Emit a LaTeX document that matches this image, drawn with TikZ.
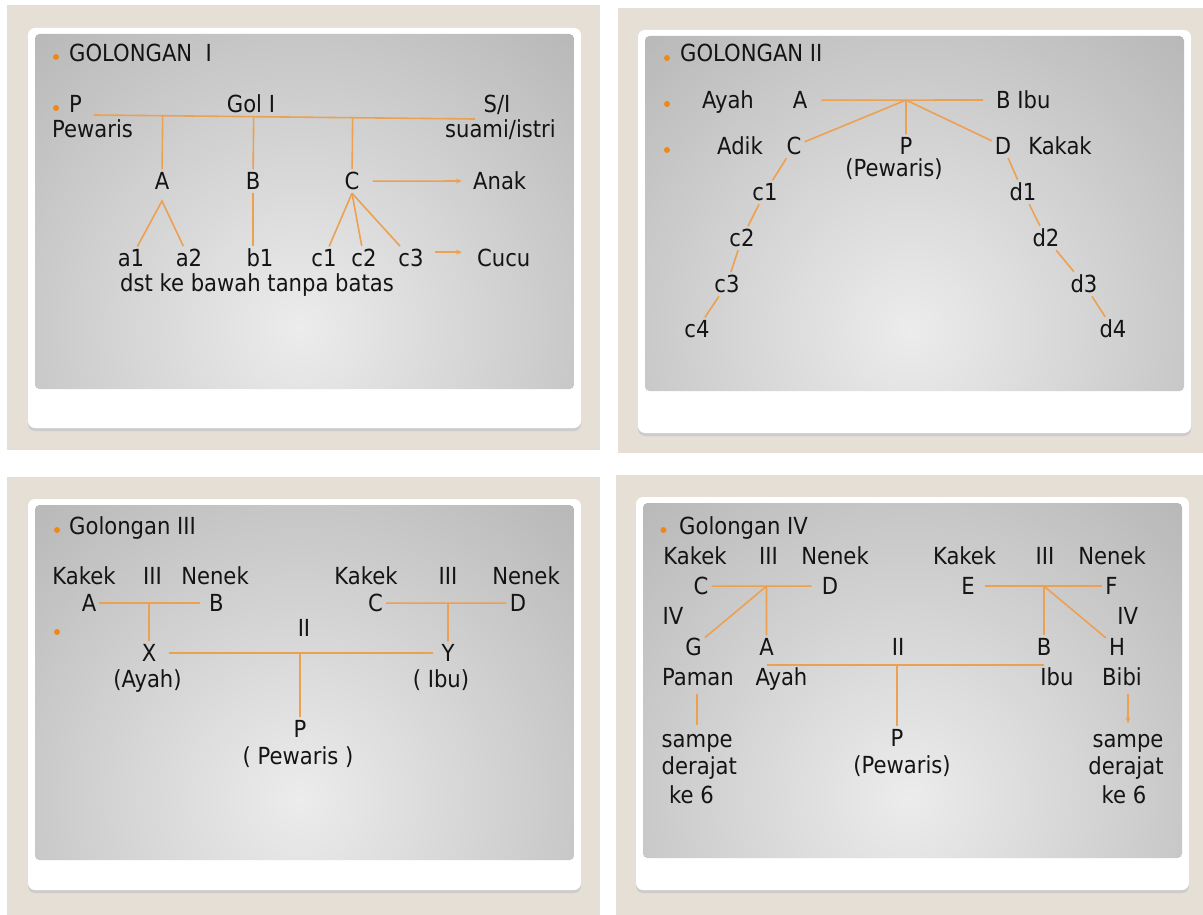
\documentclass[tikz,border=0pt]{standalone}
\usepackage{fontspec}
\setmainfont{DejaVu Sans Condensed}
\usetikzlibrary{arrows.meta,calc}

\definecolor{beige}{RGB}{229,223,213}
\definecolor{panelc}{RGB}{150,150,150}
\definecolor{panelhi}{RGB}{236,236,236}
\definecolor{lnc}{RGB}{236,160,82}
\definecolor{dotc}{RGB}{242,135,25}
\definecolor{txtc}{RGB}{20,20,20}

\begin{document}
\begin{tikzpicture}[x=1pt,y=-1pt,
    every node/.style={font=\fontsize{23.5}{28}\selectfont, text=txtc, inner sep=3pt, anchor=mid},
    ln/.style={draw=lnc, line width=1.6pt},
    arr/.style={ln, -{Stealth[length=6pt,width=5pt]}},
    dot/.style={fill=dotc},
    pics/slide/.style={code={
        \fill[black!20, rounded corners=7pt] (0,3) rectangle (553,#1+3);%shadow
        \fill[white, rounded corners=7pt] (0,0) rectangle (553,#1);
        \begin{scope}
            \clip[rounded corners=5pt] (7,6) rectangle (546,361);
            \fill[panelc] (7,6) rectangle (546,361);
            \shade[inner color=panelhi, outer color=panelc] (272,300) circle (660pt);
        \end{scope}
    }}
]
    \fill[white] (0,0) rectangle (1203,915);
    \fill[beige] (7,5) rectangle (600,450);
    \fill[beige] (618,8) rectangle (1203,453);
    \fill[beige] (7,477) rectangle (600,915);
    \fill[beige] (616,475) rectangle (1203,915);

    \pic at (28,28) {slide=400};
    \pic at (638,30) {slide=403};
    \pic at (28,499) {slide=391};
    \pic at (636,497) {slide=393};

    %golongan I
    \fill[dot] (56,57) circle (3pt);
    \node[anchor=mid west] (i-t) at (66,59) {GOLONGAN\ \ I};
    \fill[dot] (56,108) circle (3pt);
    \node[anchor=mid west] (i-P) at (66,110) {P};
    \node (i-gol) at (251,110) {Gol I};
    \node (i-SI) at (497,110) {S/I};
    \node[anchor=mid west] (i-pw) at (49,135) {Pewaris};
    \node[anchor=mid east] (i-si) at (559,135) {suami/istri};
    \node (i-A) at (162,187) {A};
    \node (i-B) at (253,187) {B};
    \node (i-C) at (352,187) {C};
    \node[anchor=mid west] (i-anak) at (470,187) {Anak};
    \node (i-a1) at (131,264) {a1};
    \node (i-a2) at (189,264) {a2};
    \node (i-b1) at (260,264) {b1};
    \node (i-c1) at (324,264) {c1};
    \node (i-c2) at (364,264) {c2};
    \node (i-c3) at (411,264) {c3};
    \node[anchor=mid west] (i-cucu) at (474,264) {Cucu};
    \node[anchor=mid west] (i-dst) at (117,289) {dst ke bawah tanpa batas};

    \coordinate (i-l) at (94,115);
    \coordinate (i-r) at (475,119);
    \draw[ln] (i-l) -- (i-r);
    \foreach \n in {A,B,C}
        \draw[ln] ($(i-l)!(i-\n)!(i-r)$) -- (i-\n);
    \draw[ln] (i-B.south) -- (i-B.south |- i-b1.north);
    \draw[ln] (i-a1) -- ([yshift=-8pt]i-A.south) -- (i-a2);
    \foreach \n in {c1,c2,c3}
        \draw[ln] (i-C.south) -- (i-\n);
    \draw[arr, shorten <=10pt, shorten >=8pt] (i-C) -- (i-anak);
    \draw[arr, shorten <=8pt, shorten >=12pt] ([yshift=6pt]i-c3.east) -- ([yshift=6pt]i-cucu.west);

    %golongan II
    \fill[dot] (667,58) circle (3pt);
    \node[anchor=mid west] (ii-t) at (677,59) {GOLONGAN II};
    \fill[dot] (667,104) circle (3pt);
    \node (ii-ayah) at (728,106) {Ayah};
    \node (ii-A) at (800,106) {A};
    \node[anchor=mid west] (ii-B) at (993,106) {B Ibu};
    \fill[dot] (667,150) circle (3pt);
    \node (ii-adik) at (740,152) {Adik};
    \node (ii-C) at (794,152) {C};
    \node (ii-P) at (906,152) {P};
    \node (ii-pw) at (894,174) {(Pewaris)};
    \node (ii-D) at (1003,152) {D};
    \node (ii-kakak) at (1060,152) {Kakak};
    \foreach \i/\x/\y in {1/765/198,2/742/244,3/727/290,4/697/335}
        \node (ii-c\i) at (\x,\y) {c\i};
    \foreach \i/\x/\y in {1/1023/198,2/1046/244,3/1084/290,4/1113/335}
        \node (ii-d\i) at (\x,\y) {d\i};

    \draw[ln, shorten <=11pt, shorten >=10pt] (ii-A) -- (ii-B);
    \coordinate (ii-j) at ($(ii-A)!(ii-P)!(ii-B)$);
    \foreach \n in {C,P,D}
        \draw[ln] (ii-j) -- (ii-\n);
    \draw[ln] (ii-C) -- (ii-c1) -- (ii-c2) -- (ii-c3) -- (ii-c4);
    \draw[ln] (ii-D) -- (ii-d1) -- (ii-d2) -- (ii-d3) -- (ii-d4);

    %golongan III
    \fill[dot] (57,530) circle (3pt);
    \node[anchor=mid west] (iii-t) at (66,532) {Golongan III};
    \node (iii-k1) at (84,582) {Kakek};
    \node (iii-g1) at (152.5,582) {III};
    \node (iii-n1) at (215,582) {Nenek};
    \node (iii-k2) at (366,582) {Kakek};
    \node (iii-g2) at (448,582) {III};
    \node (iii-n2) at (526,582) {Nenek};
    \node (iii-A) at (89,609) {A};
    \node (iii-B) at (216.5,609) {B};
    \node (iii-C) at (375.5,609) {C};
    \node (iii-D) at (518,609) {D};
    \fill[dot] (57,632) circle (3pt);
    \node (iii-II) at (304,634) {II};
    \node (iii-X) at (149,659) {X};
    \node (iii-ayah) at (147.5,685) {(Ayah)};
    \node (iii-Y) at (448,659) {Y};
    \node (iii-ibu) at (441,685) {( Ibu)};
    \node (iii-P) at (300,735) {P};
    \node (iii-pw) at (298,762) {( Pewaris )};

    \draw[ln, shorten >=6pt] (iii-A) -- (iii-B);
    \draw[ln] (iii-C) -- (iii-D);
    \draw[ln] ($(iii-A)!(iii-X)!(iii-B)$) -- (iii-X);
    \draw[ln] ($(iii-C)!(iii-Y)!(iii-D)$) -- (iii-Y);
    \draw[ln, shorten <=10pt, shorten >=5pt] (iii-X) -- (iii-Y);
    \draw[ln] ($(iii-X)!(iii-P)!(iii-Y)$) -- (iii-P);

    %golongan IV
    \fill[dot] (663.5,530) circle (3pt);
    \node[anchor=mid west] (iv-t) at (676,532) {Golongan IV};
    \node (iv-k1) at (695,562) {Kakek};
    \node (iv-g1) at (768.5,562) {III};
    \node (iv-n1) at (835,562) {Nenek};
    \node (iv-k2) at (964.6,562) {Kakek};
    \node (iv-g2) at (1045,562) {III};
    \node (iv-n2) at (1112,562) {Nenek};
    \node (iv-C) at (701,592) {C};
    \node (iv-D) at (830,592) {D};
    \node (iv-E) at (968,592) {E};
    \node (iv-F) at (1111.5,592) {F};
    \node (iv-IVl) at (673,622) {IV};
    \node (iv-IVr) at (1127.7,622) {IV};
    \node (iv-G) at (693.5,653) {G};
    \node (iv-A) at (766.5,653) {A};
    \node (iv-II) at (898,653) {II};
    \node (iv-B) at (1044,653) {B};
    \node (iv-H) at (1117,653) {H};
    \node (iv-paman) at (698,683) {Paman};
    \node (iv-ayah) at (781.5,683) {Ayah};
    \node (iv-ibu) at (1057,683) {Ibu};
    \node (iv-bibi) at (1122,683) {Bibi};
    \node (iv-P) at (897,744) {P};
    \node (iv-pw) at (902,771) {(Pewaris)};
    \node[anchor=mid west] (iv-sl) at (658.5,745) {sampe};
    \node[anchor=mid west] (iv-dl) at (658.5,772) {derajat};
    \node[anchor=mid west] (iv-kl) at (666,801) {ke 6};
    \node (iv-sr) at (1128,745) {sampe};
    \node (iv-dr) at (1126,772) {derajat};
    \node (iv-kr) at (1124,801) {ke 6};

    \draw[ln, shorten >=7pt] (iv-C) -- (iv-D);
    \draw[ln, shorten <=7pt] (iv-E) -- (iv-F);
    \coordinate (iv-jl) at ($(iv-C)!(iv-A)!(iv-D)$);
    \coordinate (iv-jr) at ($(iv-E)!(iv-B)!(iv-F)$);
    \draw[ln] (iv-jl) -- (iv-G);
    \draw[ln] (iv-jl) -- (iv-A);
    \draw[ln] (iv-jr) -- (iv-B);
    \draw[ln] (iv-jr) -- (iv-H);
    \coordinate (iv-l) at ([yshift=-6pt]iv-A.south);
    \coordinate (iv-r) at ([yshift=-6pt]iv-B.south);
    \draw[ln] (iv-l) -- (iv-r);
    \draw[ln] ($(iv-l)!(iv-P)!(iv-r)$) -- (iv-P);
    \draw[ln, shorten <=5pt, shorten >=6pt] (iv-sl.north |- iv-paman.south) -- (iv-sl.north);
    \draw[arr, shorten <=5pt, shorten >=8pt] (iv-sr.north |- iv-bibi.south) -- (iv-sr.north);
\end{tikzpicture}
\end{document}
